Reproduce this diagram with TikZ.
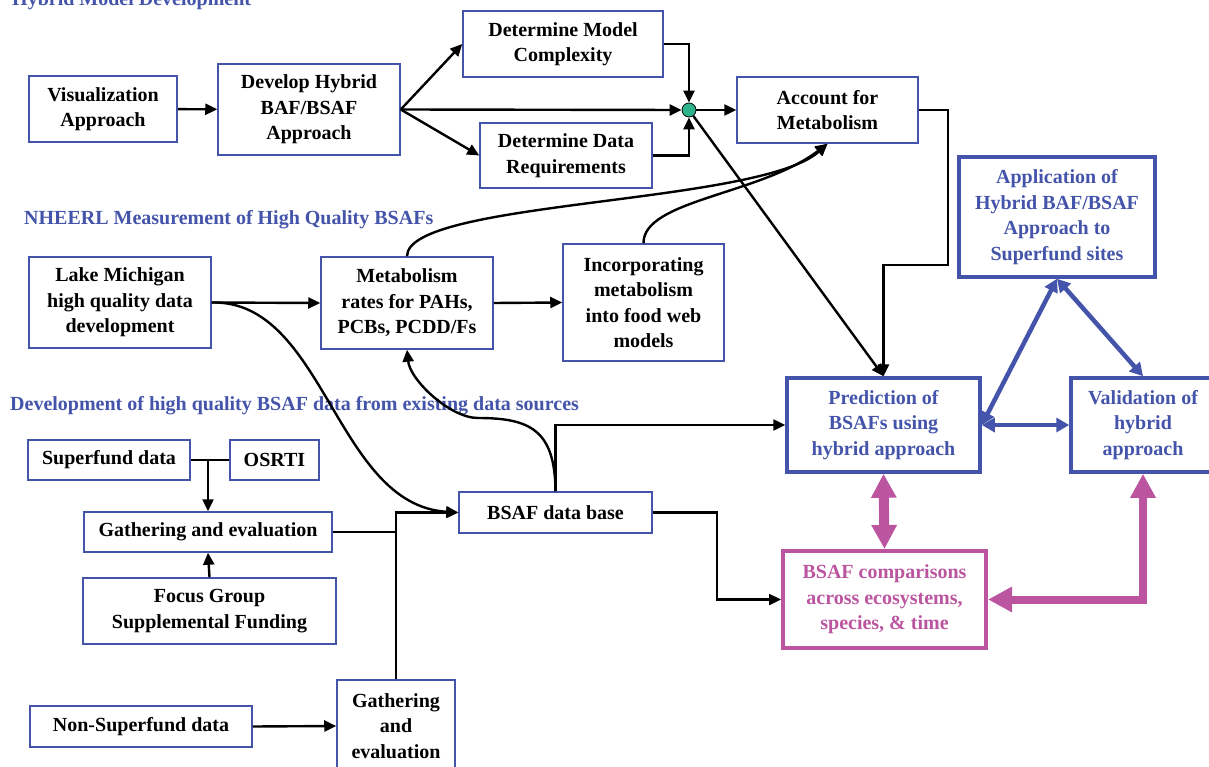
\documentclass[tikz,border=0pt]{standalone}
\usepackage{fontspec}
\setmainfont{Liberation Serif}
\usetikzlibrary{arrows.meta}
\definecolor{hmblue}{RGB}{68,84,170}
\definecolor{hmpink}{RGB}{187,85,160}
\definecolor{hmgreen}{RGB}{45,180,140}

\begin{document}
\begin{tikzpicture}[x=1pt,y=-1pt,
  every node/.style={font=\fontsize{20}{25.5}\selectfont\bfseries, align=center, inner sep=0pt},
  box/.style={draw=hmblue, line width=1.5pt},
  bbox/.style={draw=hmblue, line width=3.5pt, text=hmblue},
  pbox/.style={draw=hmpink, line width=4pt, text=hmpink},
  ttl/.style={text=hmblue, anchor=base west},
  arr/.style={line width=2.4pt, -{Triangle[length=12pt,width=11pt]}},
  ln/.style={line width=2.4pt},
  barr/.style={draw=hmblue, line width=4.5pt, {Triangle[length=13pt,width=14pt]}-{Triangle[length=13pt,width=14pt]}},
  parr/.style={draw=hmpink, line width=8pt, {Triangle[length=24pt,width=24pt]}-{Triangle[length=24pt,width=24pt]}}]
\useasboundingbox (0,0) rectangle (1209,767);
\clip (0,0) rectangle (1209,767);

\node[ttl] (t1) at (12,6) {Hybrid Model Development};
\node[ttl] (t2) at (24,225) {NHEERL Measurement of High Quality BSAFs};
\node[ttl] (t3) at (10,410) {Development of high quality BSAF data from existing data sources};

\node[box, minimum width=148pt, minimum height=66pt] (vis) at (103,109) {Visualization\\Approach};
\node[box, minimum width=182pt, minimum height=91pt] (dev) at (309,109.5) {Develop Hybrid\\BAF/BSAF\\Approach};
\node[box, minimum width=200pt, minimum height=66pt] (dmc) at (563,44) {Determine Model\\Complexity};
\node[box, minimum width=172pt, minimum height=65pt] (ddr) at (566,155.5) {Determine Data\\Requirements};
\node[circle, draw=black, fill=hmgreen, line width=0.8pt, minimum size=14pt] (jn) at (689,110) {};
\node[box, minimum width=181pt, minimum height=66pt] (afm) at (827.5,110) {Account for\\Metabolism};

\node[box, minimum width=182pt, minimum height=91pt] (lm) at (120,302.5) {Lake Michigan\\high quality data\\development};
\node[box, minimum width=172pt, minimum height=92pt] (mr) at (407,303) {Metabolism\\rates for PAHs,\\PCBs, PCDD/Fs};
\node[box, minimum width=161pt, minimum height=117pt] (inc) at (643.5,302.5) {Incorporating\\metabolism\\into food web\\models};

\node[box, minimum width=162pt, minimum height=40pt] (sfd) at (109,460) {Superfund data};
\node[box, minimum width=89pt, minimum height=40pt] (osrti) at (274.5,460) {OSRTI};
\node[box, minimum width=248pt, minimum height=40pt] (gae1) at (208,532) {Gathering and evaluation};
\node[box, minimum width=253pt, minimum height=66pt] (fgs) at (209.5,611) {Focus Group\\Supplemental Funding};
\node[box, minimum width=222pt, minimum height=41pt] (nsf) at (141,726.5) {Non-Superfund data};
\node[box, minimum width=118pt, minimum height=92pt] (gae2) at (396,726) {Gathering\\and\\evaluation};
\node[box, minimum width=193pt, minimum height=41pt] (bsaf) at (555.5,512.5) {BSAF data base};

\node[bbox, minimum width=196pt, minimum height=120pt] (app) at (1057,217) {Application of\\Hybrid BAF/BSAF\\Approach to\\Superfund sites};
\node[bbox, minimum width=193pt, minimum height=94pt] (pred) at (883.5,425) {Prediction of\\BSAFs using\\hybrid approach};
\node[bbox, minimum width=144pt, minimum height=94pt] (val) at (1143,425) {Validation of\\hybrid\\approach};
\node[pbox, minimum width=203pt, minimum height=97pt] (comp) at (884.5,599.5) {BSAF comparisons\\across ecosystems,\\species, \& time};

\draw[arr] (vis) -- (dev);
\draw[arr] (dev.east) -- (dmc.west);
\draw[arr] (dev.east) -- (ddr.west);
\draw[arr] (dev.east) -- (jn.west);
\draw[arr] (dmc.east) -| (jn.north);
\draw[arr] (ddr.east) -| (jn.south);
\draw[arr] (jn.east) -- (afm.west);
\draw[arr] (jn) -- (pred.north);
\coordinate (bend) at (948,265);
\draw[arr] (afm.east) -| (bend) -| (pred.north);

\draw[arr] (lm.east) -- (mr.west);
\draw[arr] (mr.east) -- (inc.west);
\draw[arr] (lm.east) .. controls (325,300) and (335,505) .. (bsaf.west);
\draw[arr] (bsaf.north) .. controls (555,430) and (530,418) .. (478,418) .. controls (450,418) and (410,380) .. (mr.south);
\draw[arr] (mr.north) .. controls (407,200) and (760,205) .. (afm.south);
\draw[arr] (inc.north) .. controls (643,200) and (760,195) .. (afm.south);

\draw[ln] (sfd.east) -- (osrti.west);
\draw[arr] (gae1.north |- sfd.east) -- (gae1.north);
\draw[arr] (fgs.north) -- (gae1.south);
\draw[arr] (nsf.east) -- (gae2.west);
\draw[ln] (gae1.east) -- (gae2.north |- gae1.east);
\draw[arr] (gae2.north) |- (bsaf.west);
\draw[arr] (bsaf.north) |- (pred.west);
\draw[arr] (bsaf.east) -- ++(64,0) |- (comp.west);

\draw[barr] (pred.east) -- (val.west);
\draw[barr] (pred.east) -- (app.south);
\draw[barr] (app.south) -- (val.north);
\draw[parr, line width=10pt] (pred.south) -- (comp.north);
\draw[parr] (val.south) |- (comp.east);
\end{tikzpicture}
\end{document}
